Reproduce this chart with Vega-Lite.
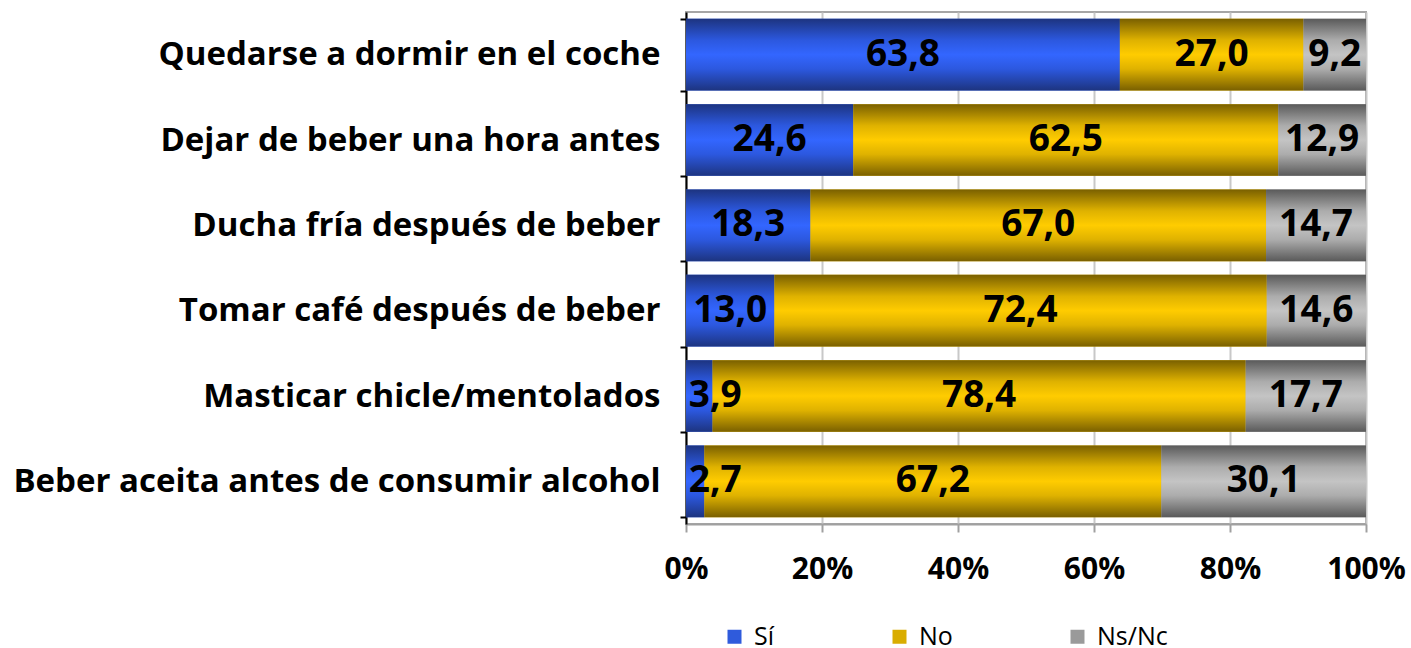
{
  "$schema": "https://vega.github.io/schema/vega-lite/v6.json",
  "autosize": {"type": "none"},
  "padding": {"left": 686, "top": 12, "right": 45, "bottom": 124},
  "width": 680,
  "height": 512,
  "config": {
    "font": "Open Sans",
    "view": {"stroke": "#a6a6a6", "strokeWidth": 2}
  },
  "data": {
    "values": [
      {"item": "Quedarse a dormir en el coche", "resp": "Sí", "v": 63.8},
      {"item": "Quedarse a dormir en el coche", "resp": "No", "v": 27.0},
      {"item": "Quedarse a dormir en el coche", "resp": "Ns/Nc", "v": 9.2},
      {"item": "Dejar de beber una hora antes", "resp": "Sí", "v": 24.6},
      {"item": "Dejar de beber una hora antes", "resp": "No", "v": 62.5},
      {"item": "Dejar de beber una hora antes", "resp": "Ns/Nc", "v": 12.9},
      {"item": "Ducha fría después de beber", "resp": "Sí", "v": 18.3},
      {"item": "Ducha fría después de beber", "resp": "No", "v": 67.0},
      {"item": "Ducha fría después de beber", "resp": "Ns/Nc", "v": 14.7},
      {"item": "Tomar café después de beber", "resp": "Sí", "v": 13.0},
      {"item": "Tomar café después de beber", "resp": "No", "v": 72.4},
      {"item": "Tomar café después de beber", "resp": "Ns/Nc", "v": 14.6},
      {"item": "Masticar chicle/mentolados", "resp": "Sí", "v": 3.9},
      {"item": "Masticar chicle/mentolados", "resp": "No", "v": 78.4},
      {"item": "Masticar chicle/mentolados", "resp": "Ns/Nc", "v": 17.7},
      {"item": "Beber aceita antes de consumir alcohol", "resp": "Sí", "v": 2.7},
      {"item": "Beber aceita antes de consumir alcohol", "resp": "No", "v": 67.2},
      {"item": "Beber aceita antes de consumir alcohol", "resp": "Ns/Nc", "v": 30.1}
    ]
  },
  "transform": [
    {"calculate": "indexof(['Sí','No','Ns/Nc'], datum.resp)", "as": "ord"},
    {"stack": "v", "groupby": ["item"], "sort": [{"field": "ord"}], "as": ["x0", "x1"]},
    {"calculate": "max((datum.x0 + datum.x1) / 2, 4.3)", "as": "lx"},
    {"calculate": "replace(format(datum.v, '.1f'), '.', ',')", "as": "lab"}
  ],
  "encoding": {
    "y": {
      "field": "item",
      "type": "nominal",
      "sort": null,
      "title": null,
      "scale": {"paddingInner": 0.16, "paddingOuter": 0.08},
      "axis": {
        "domainColor": "#000000",
        "domainWidth": 2,
        "tickBand": "extent",
        "tickColor": "#000000",
        "tickWidth": 2,
        "tickSize": 6,
        "labelFont": "Open Sans",
        "labelFontWeight": "bold",
        "labelFontSize": 33,
        "labelColor": "#000000",
        "labelPadding": 20,
        "labelLimit": 700
      }
    }
  },
  "layer": [
    {
      "mark": {"type": "bar"},
      "encoding": {
        "x": {
          "field": "x0",
          "type": "quantitative",
          "scale": {"domain": [0, 100], "nice": false},
          "title": null,
          "axis": {
            "values": [0, 20, 40, 60, 80, 100],
            "labelExpr": "datum.value + '%'",
            "grid": true,
            "gridColor": "#c8c8c8",
            "gridWidth": 2,
            "domainColor": "#a0a0a0",
            "domainWidth": 2,
            "tickColor": "#a0a0a0",
            "tickWidth": 2,
            "tickSize": 8,
            "labelFont": "Open Sans",
            "labelFontWeight": "bold",
            "labelFontSize": 30,
            "labelColor": "#000000",
            "labelPadding": 22,
            "labelFlush": false
          }
        },
        "x2": {"field": "x1"},
        "color": {
          "field": "resp",
          "type": "nominal",
          "sort": ["Sí", "No", "Ns/Nc"],
          "scale": {"domain": ["Sí", "No", "Ns/Nc"], "range": ["#2f5bdc", "#d9ad00", "#9a9a9a"]},
          "legend": {
            "title": null,
            "orient": "none",
            "legendX": 36,
            "legendY": 612,
            "direction": "horizontal",
            "columns": 3,
            "columnPadding": 112,
            "padding": 0,
            "symbolType": "square",
            "symbolSize": 196,
            "symbolStrokeWidth": 0,
            "symbolOpacity": 1,
            "labelFont": "Open Sans",
            "labelFontSize": 25,
            "labelColor": "#000000",
            "labelOffset": 7
          }
        }
      }
    },
    {
      "transform": [{"filter": "datum.resp === 'Sí'"}],
      "mark": {
        "type": "bar",
        "color": {"gradient": "linear", "x1": 0, "y1": 0, "x2": 0, "y2": 1,
          "stops": [{"offset": 0, "color": "#1d3480"}, {"offset": 0.3, "color": "#2c58df"}, {"offset": 0.5, "color": "#3366ff"}, {"offset": 0.7, "color": "#2c58df"}, {"offset": 1, "color": "#1d3480"}]}
      },
      "encoding": {"x": {"field": "x0", "type": "quantitative"}, "x2": {"field": "x1"}}
    },
    {
      "transform": [{"filter": "datum.resp === 'No'"}],
      "mark": {
        "type": "bar",
        "color": {"gradient": "linear", "x1": 0, "y1": 0, "x2": 0, "y2": 1,
          "stops": [{"offset": 0, "color": "#7a6000"}, {"offset": 0.3, "color": "#dfb200"}, {"offset": 0.5, "color": "#ffcc00"}, {"offset": 0.7, "color": "#dfb200"}, {"offset": 1, "color": "#7a6000"}]}
      },
      "encoding": {"x": {"field": "x0", "type": "quantitative"}, "x2": {"field": "x1"}}
    },
    {
      "transform": [{"filter": "datum.resp === 'Ns/Nc'"}],
      "mark": {
        "type": "bar",
        "color": {"gradient": "linear", "x1": 0, "y1": 0, "x2": 0, "y2": 1,
          "stops": [{"offset": 0, "color": "#5a5a5a"}, {"offset": 0.3, "color": "#acacac"}, {"offset": 0.5, "color": "#c4c4c4"}, {"offset": 0.7, "color": "#acacac"}, {"offset": 1, "color": "#5a5a5a"}]}
      },
      "encoding": {"x": {"field": "x0", "type": "quantitative"}, "x2": {"field": "x1"}}
    },
    {
      "mark": {"type": "text", "font": "Open Sans", "fontWeight": "bold", "fontSize": 37, "color": "#000000", "align": "center", "baseline": "middle"},
      "encoding": {
        "x": {"field": "lx", "type": "quantitative"},
        "text": {"field": "lab"}
      }
    }
  ]
}
